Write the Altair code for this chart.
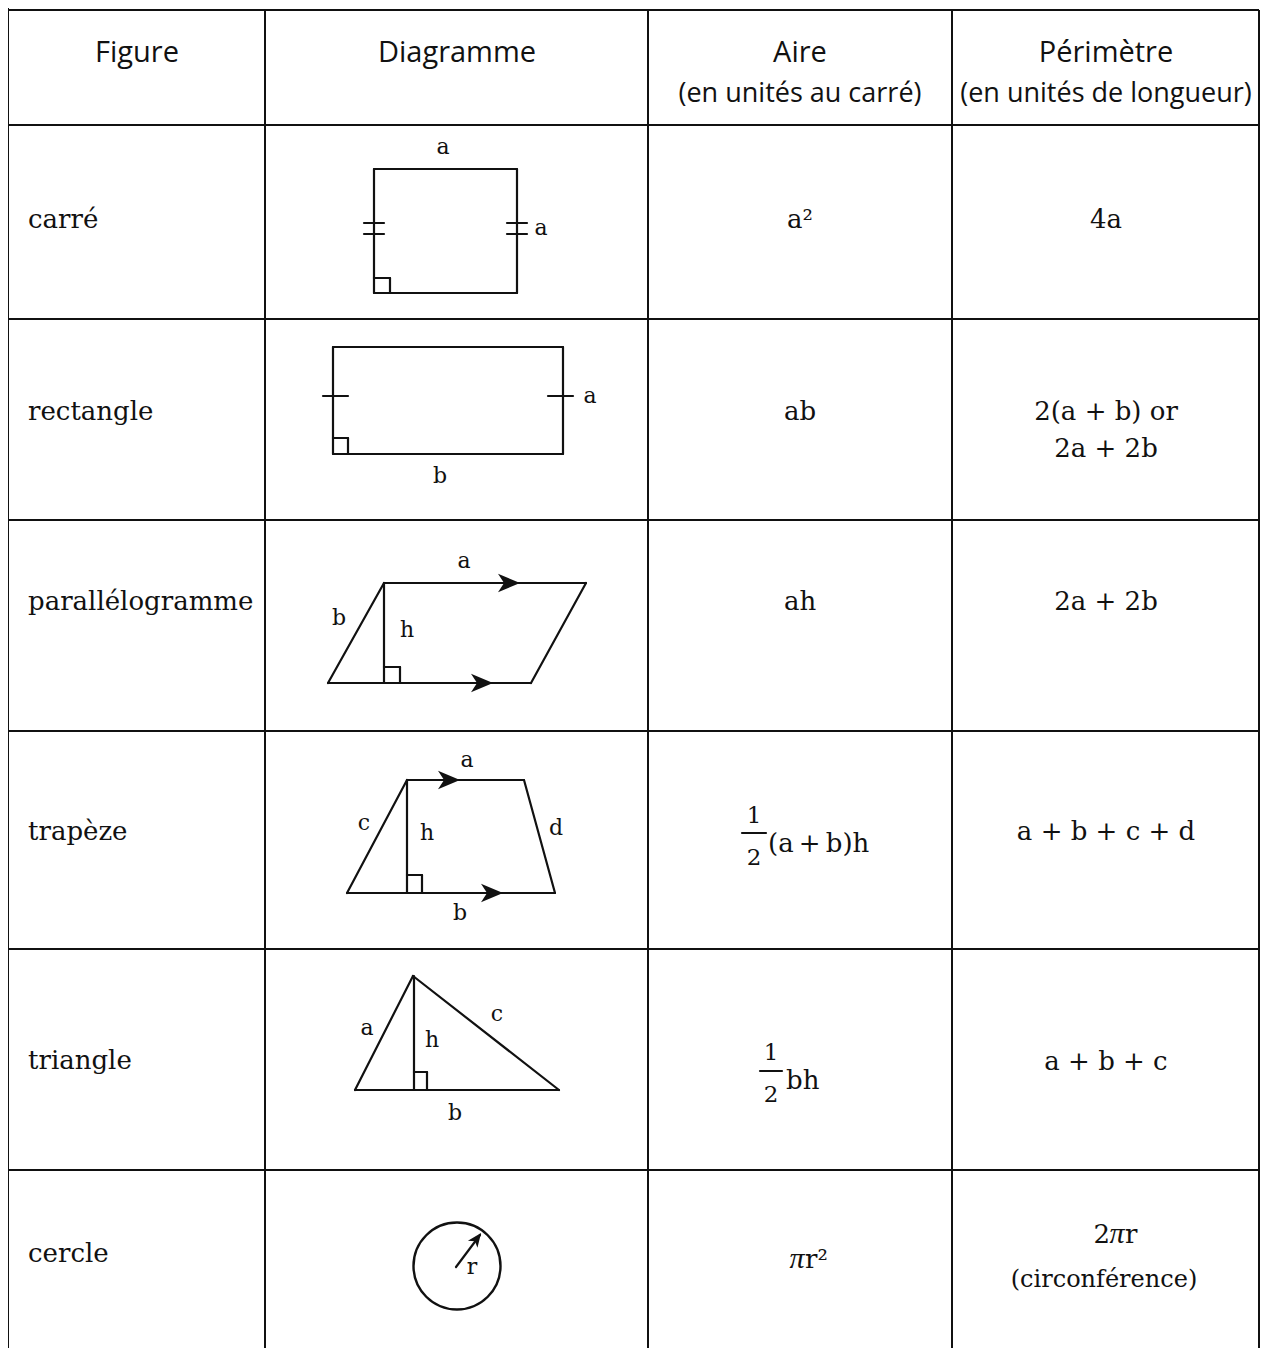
import altair as alt
import pandas as pd

# ---------------- table structure (pixel coordinates of the sheet) ----------------
col_edges = [8, 265, 648, 952, 1259]
row_edges = [10, 125, 319, 520, 731, 949, 1170]
table_bottom = 1362
col_centers = [137, 457, 800, 1106]

# ---------------- header ----------------
header_line1 = ["Figure", "Diagramme", "Aire", "Périmètre"]
header_line2 = ["", "", "(en unités au carré)", "(en unités de longueur)"]
header_base1 = 62
header_base2 = 102

# ---------------- first column ----------------
figures = ["carré", "rectangle", "parallélogramme", "trapèze", "triangle", "cercle"]
figure_base = [228, 420, 610, 840, 1069, 1262]
figure_left = 28

# ---------------- area column ----------------
aire_text = ["a²", "ab", "ah"]
aire_base = [228, 420, 610]

# fractions: numerator/denominator and the rest of the formula
frac_rest = ["(a\u2009+\u2009b)h", "bh"]
frac_x = [754, 771]
frac_rest_left = [768, 786]
frac_num_base = [823, 1060]
frac_bar_y = [833, 1071]
frac_den_base = [865, 1102]
frac_half_width = [12, 11]

# formulas with an italic pi: (text before pi, text after pi, pi centre x, baseline)
pi_before = ["", "2"]
pi_after = ["r²", "r"]
pi_x = [797, 1117]
pi_base = [1268, 1243]

# ---------------- perimeter column ----------------
perim_text = ["4a", "2(a + b) or", "2a + 2b", "2a + 2b", "a + b + c + d", "a + b + c"]
perim_base = [228, 420, 457, 610, 840, 1070]
perim_note = "(circonférence)"
perim_note_base = 1287

# ---------------- diagrams (vertices) ----------------
polylines = [
    # square
    [(374, 169), (517, 169), (517, 293), (374, 293), (374, 169)],
    [(374, 278), (390, 278), (390, 293)],
    [(364, 223), (384, 223)], [(364, 234), (384, 234)],
    [(507, 223), (527, 223)], [(507, 234), (527, 234)],
    # rectangle
    [(333, 347), (563, 347), (563, 454), (333, 454), (333, 347)],
    [(323, 396), (348, 396)], [(548, 396), (573, 396)],
    [(333, 438), (348, 438), (348, 454)],
    # parallelogram
    [(384, 583), (586, 583), (531, 683), (328, 683), (384, 583)],
    [(384, 583), (384, 683)],
    [(384, 667), (400, 667), (400, 683)],
    # trapezoid
    [(407, 780), (524, 780), (555, 893), (347, 893), (407, 780)],
    [(407, 780), (407, 893)],
    [(407, 875), (422, 875), (422, 893)],
    # triangle
    [(413, 976), (559, 1090), (355, 1090), (413, 976)],
    [(414, 976), (414, 1090)],
    [(414, 1072), (427, 1072), (427, 1090)],
    # circle radius
    [(456, 1267), (480, 1235)],
]
arrow_tips = [(520, 583), (493, 683), (460, 780), (503, 893)]
circle_center = (457, 1266)
circle_diameter = 87
radius_tip = (481, 1233)

diagram_labels = [
    ("a", 443, 147), ("a", 541, 228),
    ("a", 590, 396), ("b", 440, 476),
    ("a", 464, 561), ("b", 339, 618), ("h", 407, 630),
    ("a", 467, 760), ("c", 364, 823), ("h", 427, 833), ("d", 556, 828), ("b", 460, 913),
    ("a", 367, 1028), ("h", 432, 1040), ("c", 497, 1014), ("b", 455, 1113),
    ("r", 472, 1267),
]

# ---------------- build tables ----------------
segs = []
for y in row_edges:
    segs.append(dict(x=col_edges[0], y=y, x2=col_edges[-1], y2=y))
for i, x in enumerate(col_edges):
    segs.append(dict(x=x, y=0 if i == 0 else row_edges[0], x2=x, y2=table_bottom))
grid_df = pd.DataFrame(segs)

shape_segs = []
for pl in polylines:
    for (xa, ya), (xb, yb) in zip(pl[:-1], pl[1:]):
        shape_segs.append(dict(x=xa, y=ya, x2=xb, y2=yb))
for i, x in enumerate(frac_x):
    shape_segs.append(dict(x=x - frac_half_width[i], y=frac_bar_y[i],
                           x2=x + frac_half_width[i], y2=frac_bar_y[i]))
shape_df = pd.DataFrame(shape_segs)

ARROW_LEN = 22
arrow_df = pd.DataFrame([dict(x=tx - ARROW_LEN / 2, y=ty) for tx, ty in arrow_tips])
small_len = 14
dx, dy = radius_tip[0] - circle_center[0], radius_tip[1] - circle_center[1]
norm = (dx ** 2 + dy ** 2) ** 0.5
radius_arrow_df = pd.DataFrame([dict(x=radius_tip[0] - dx / norm * small_len / 2,
                                     y=radius_tip[1] - dy / norm * small_len / 2)])
circle_df = pd.DataFrame([dict(x=circle_center[0], y=circle_center[1])])

header1_df = pd.DataFrame([dict(x=col_centers[i], y=header_base1, text=t)
                           for i, t in enumerate(header_line1)])
header2_df = pd.DataFrame([dict(x=col_centers[i], y=header_base2, text=t)
                           for i, t in enumerate(header_line2) if t])

fig_df = pd.DataFrame([dict(x=figure_left, y=b, text=t) for t, b in zip(figures, figure_base)])

center_rows = [dict(x=col_centers[2], y=b, text=t) for t, b in zip(aire_text, aire_base)]
center_rows += [dict(x=col_centers[3], y=b, text=t) for t, b in zip(perim_text, perim_base)]
center_df = pd.DataFrame(center_rows)

PI_HALF = 8
left_rows = [dict(x=frac_rest_left[i], y=(frac_num_base[i] + frac_den_base[i]) / 2 + 8,
                  text=frac_rest[i]) for i in range(len(frac_rest))]
left_rows += [dict(x=pi_x[i] + PI_HALF, y=pi_base[i], text=pi_after[i]) for i in range(len(pi_x))]
left_df = pd.DataFrame(left_rows)
right_df = pd.DataFrame([dict(x=pi_x[i] - PI_HALF + 1, y=pi_base[i], text=pi_before[i])
                         for i in range(len(pi_x)) if pi_before[i]])
pi_df = pd.DataFrame([dict(x=pi_x[i], y=pi_base[i], text="π") for i in range(len(pi_x))])

frac_num_df = pd.DataFrame(
    [dict(x=frac_x[i], y=frac_num_base[i], text="1") for i in range(len(frac_x))]
    + [dict(x=frac_x[i], y=frac_den_base[i], text="2") for i in range(len(frac_x))]
)
note_df = pd.DataFrame([dict(x=col_centers[3] - 2, y=perim_note_base, text=perim_note)])
label_df = pd.DataFrame([dict(text=t, x=x, y=y) for t, x, y in diagram_labels])

# ---------------- encodings ----------------
xs = alt.Scale(domain=[8, 1260], nice=False, zero=False)
ys = alt.Scale(domain=[8, 1348], nice=False, zero=False, reverse=True)
X = alt.X("x:Q", scale=xs, axis=None)
Y = alt.Y("y:Q", scale=ys, axis=None)

INK = "#111111"


def text_layer(df, font, size, align, baseline="alphabetic", style="normal"):
    return alt.Chart(df).mark_text(font=font, fontSize=size, align=align, baseline=baseline,
                                   fontStyle=style, color=INK).encode(x=X, y=Y, text="text:N")


grid = alt.Chart(grid_df).mark_rule(color=INK, strokeWidth=2).encode(
    x=X, y=Y, x2="x2:Q", y2="y2:Q")
shapes = alt.Chart(shape_df).mark_rule(color=INK, strokeWidth=2.2, strokeCap="round").encode(
    x=X, y=Y, x2="x2:Q", y2="y2:Q")
circle = alt.Chart(circle_df).mark_point(shape="circle", filled=False, size=circle_diameter ** 2,
                                         strokeWidth=2.4, color=INK, opacity=1).encode(x=X, y=Y)
ARROW_PATH = "M1,0 L-1,-0.85 L-0.45,0 L-1,0.85 Z"
arrows = alt.Chart(arrow_df).mark_point(shape=ARROW_PATH, filled=True, size=ARROW_LEN ** 2,
                                        color=INK, opacity=1, strokeWidth=0).encode(x=X, y=Y)
radius_arrow = alt.Chart(radius_arrow_df).mark_point(shape=ARROW_PATH, filled=True, size=small_len ** 2,
                                                     color=INK, opacity=1, strokeWidth=0,
                                                     angle=307).encode(x=X, y=Y)

SERIF = "DejaVu Serif"
layers = [
    grid, shapes, circle, arrows, radius_arrow,
    text_layer(header1_df, "Open Sans", 29, "center"),
    text_layer(header2_df, "Open Sans", 27, "center"),
    text_layer(fig_df, SERIF, 26, "left"),
    text_layer(center_df, SERIF, 26, "center"),
    text_layer(left_df, SERIF, 26, "left"),
    text_layer(right_df, SERIF, 26, "right"),
    text_layer(pi_df, "Liberation Serif", 30, "center", style="italic"),
    text_layer(frac_num_df, SERIF, 23, "center"),
    text_layer(note_df, SERIF, 24, "center"),
    text_layer(label_df, SERIF, 22, "center", baseline="middle"),
]

chart = alt.layer(*layers).properties(
    width=1252, height=1340, padding=0, background="white",
    autosize=alt.AutoSizeParams(type="none"),
).configure_view(stroke=None)

chart.save("out.html", embed_options={"renderer": "svg", "actions": False})
